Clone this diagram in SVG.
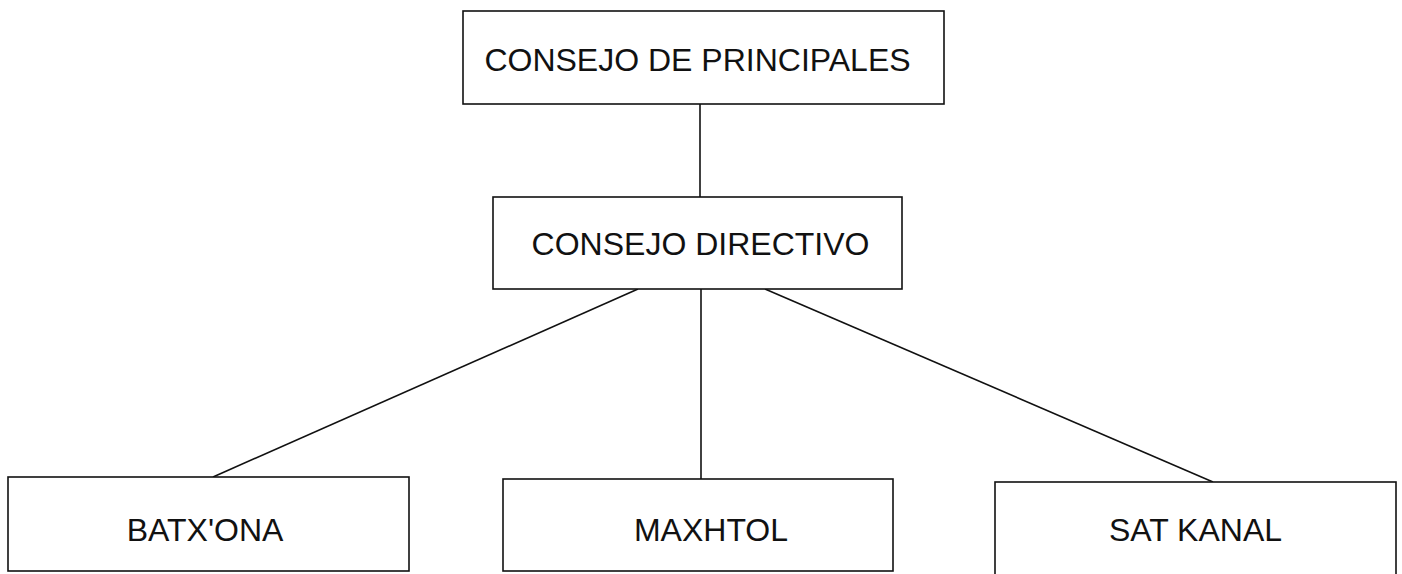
<svg xmlns="http://www.w3.org/2000/svg" width="1402" height="574" viewBox="0 0 1402 574">
<style>
.box{fill:#fff;stroke:#111;stroke-width:1.6}
.lbl{font-family:"Liberation Sans",Arial,sans-serif;font-size:32px;fill:#111;text-anchor:middle}
.conn{stroke:#111;stroke-width:1.6;fill:none}
</style>
<rect width="1402" height="574" fill="#fff"/>
<g id="connectors">
<line class="conn" x1="700" y1="104" x2="700" y2="197"/>
<line class="conn" x1="638" y1="289" x2="213" y2="477"/>
<line class="conn" x1="701" y1="289" x2="701" y2="479"/>
<line class="conn" x1="765" y1="289" x2="1213" y2="482"/>
</g>
<g id="consejo-principales">
<rect class="box" x="463" y="11" width="481" height="93"/>
<text class="lbl" x="697.5" y="71">CONSEJO DE PRINCIPALES</text>
</g>
<g id="consejo-directivo">
<rect class="box" x="493" y="197" width="409" height="92"/>
<text class="lbl" x="700.5" y="255">CONSEJO DIRECTIVO</text>
</g>
<g id="batxona">
<rect class="box" x="8" y="477" width="401" height="94"/>
<text class="lbl" x="205" y="541">BATX'ONA</text>
</g>
<g id="maxhtol">
<rect class="box" x="503" y="479" width="390" height="92"/>
<text class="lbl" x="711" y="541">MAXHTOL</text>
</g>
<g id="sat-kanal">
<rect class="box" x="995" y="482" width="401" height="100"/>
<text class="lbl" x="1195.5" y="541">SAT KANAL</text>
</g>
</svg>
